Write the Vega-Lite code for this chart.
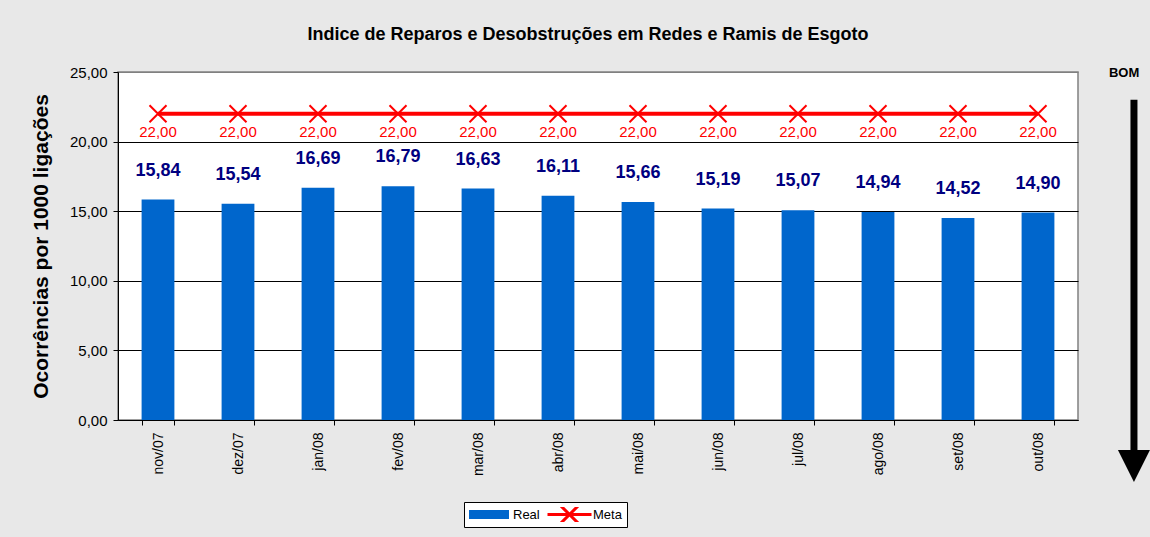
{
  "$schema": "https://vega.github.io/schema/vega-lite/v6.json",
  "width": 960,
  "height": 348,
  "autosize": {"type": "none"},
  "padding": {"left": 118, "top": 72, "right": 72, "bottom": 117},
  "background": "#e8e8e8",
  "config": {
    "font": "Liberation Sans",
    "locale": {"number": {"decimal": ",", "thousands": ".", "grouping": [3], "currency": ["R$", ""]}},
    "view": {"fill": "white", "stroke": "#808080", "strokeWidth": 1.5}
  },
  "title": {
    "text": "Indice de Reparos e Desobstruções em Redes e Ramis de Esgoto",
    "fontSize": 18,
    "fontWeight": "bold",
    "color": "black",
    "anchor": "middle",
    "frame": "group",
    "baseline": "alphabetic",
    "offset": 7,
    "dx": -10
  },
  "data": {
    "values": [
      {"mes": "nov/07", "real": 15.84, "meta": 22},
      {"mes": "dez/07", "real": 15.54, "meta": 22},
      {"mes": "jan/08", "real": 16.69, "meta": 22},
      {"mes": "fev/08", "real": 16.79, "meta": 22},
      {"mes": "mar/08", "real": 16.63, "meta": 22},
      {"mes": "abr/08", "real": 16.11, "meta": 22},
      {"mes": "mai/08", "real": 15.66, "meta": 22},
      {"mes": "jun/08", "real": 15.19, "meta": 22},
      {"mes": "jul/08", "real": 15.07, "meta": 22},
      {"mes": "ago/08", "real": 14.94, "meta": 22},
      {"mes": "set/08", "real": 14.52, "meta": 22},
      {"mes": "out/08", "real": 14.90, "meta": 22}
    ]
  },
  "layer": [
    {
      "layer": [
        {
          "mark": {"type": "bar"},
          "encoding": {
            "x": {
              "field": "mes", "type": "nominal", "sort": null,
              "scale": {"paddingInner": 0.59, "paddingOuter": 0.295},
              "axis": {
                "title": null, "labelAngle": -90, "labelFontSize": 14, "labelColor": "black",
                "labelPadding": 7, "tickBand": "extent", "tickSize": 5, "tickColor": "black",
                "domainColor": "black", "grid": false
              }
            },
            "y": {
              "field": "real", "type": "quantitative",
              "scale": {"domain": [0, 25], "nice": false},
              "axis": {
                "title": "Ocorrências por 1000 ligações", "titleFontSize": 21, "titleFontWeight": "bold",
                "titleColor": "black", "titlePadding": 18,
                "values": [0, 5, 10, 15, 20, 25], "format": ".2f",
                "labelFontSize": 15, "labelColor": "black", "labelPadding": 6,
                "tickSize": 5, "tickColor": "black", "domainColor": "black",
                "grid": true, "gridOpacity": 1,
                "gridColor": {"condition": {"test": "datum.value === 25", "value": "#808080"}, "value": "black"}
              }
            },
            "fill": {
              "datum": "Real",
              "scale": {"domain": ["Real"], "range": ["#0066CC"]},
              "legend": {
                "orient": "none", "legendX": 351, "legendY": 435, "title": null,
                "symbolType": "M-1,-0.225H1V0.225H-1Z", "symbolSize": 1600, "symbolStrokeWidth": 0,
                "clipHeight": 15, "labelFontSize": 13, "labelColor": "black", "labelOffset": 4,
                "padding": 0, "zindex": 2
              }
            }
          }
        },
        {
          "mark": {"type": "line", "strokeWidth": 4},
          "encoding": {
            "x": {"field": "mes", "type": "nominal", "sort": null},
            "y": {"field": "meta", "type": "quantitative"},
            "stroke": {
              "datum": "Meta",
              "scale": {"domain": ["Meta"], "range": ["#FF0000"]},
              "legend": {
                "orient": "none", "legendX": 346, "legendY": 430, "title": null,
                "symbolType": "M-1,0H1M-0.4,-0.4L0.4,0.4M-0.4,0.4L0.4,-0.4", "symbolSize": 1936,
                "symbolStrokeWidth": 3, "symbolFillColor": "transparent", "symbolOffset": 77,
                "clipHeight": 15, "labelFontSize": 13, "labelColor": "black", "labelOffset": 0,
                "padding": 5, "fillColor": "white", "strokeColor": "black", "zindex": 1
              }
            }
          }
        },
        {
          "mark": {"type": "point", "shape": "M-1,-1L1,1M-1,1L1,-1", "filled": false, "stroke": "#FF0000", "strokeWidth": 2, "size": 289, "opacity": 1},
          "encoding": {
            "x": {"field": "mes", "type": "nominal", "sort": null},
            "y": {"field": "meta", "type": "quantitative"}
          }
        },
        {
          "mark": {"type": "text", "dy": -29, "fontSize": 18, "fontWeight": "bold", "color": "#000080", "baseline": "middle"},
          "encoding": {
            "x": {"field": "mes", "type": "nominal", "sort": null},
            "y": {"field": "real", "type": "quantitative"},
            "text": {"field": "real", "type": "quantitative", "format": ".2f"}
          }
        },
        {
          "mark": {"type": "text", "dy": 18, "fontSize": 15, "color": "#FF0000", "baseline": "middle"},
          "encoding": {
            "x": {"field": "mes", "type": "nominal", "sort": null},
            "y": {"field": "meta", "type": "quantitative"},
            "text": {"field": "meta", "type": "quantitative", "format": ".2f"}
          }
        }
      ]
    },
    {
      "data": {"values": [{}]},
      "layer": [
        {
          "mark": {"type": "rule", "color": "black", "strokeWidth": 7},
          "encoding": {
            "x": {"datum": 1.0583, "type": "quantitative", "scale": {"domain": [0, 1], "nice": false, "zero": false}, "axis": null},
            "y": {"datum": 23, "type": "quantitative"},
            "y2": {"datum": -2.2}
          }
        },
        {
          "mark": {"type": "point", "shape": "M-1,-1L1,-1L0,1Z", "filled": true, "color": "black", "size": 1024, "opacity": 1},
          "encoding": {
            "x": {"datum": 1.0583, "type": "quantitative"},
            "y": {"datum": -3.3, "type": "quantitative"}
          }
        },
        {
          "mark": {"type": "text", "text": "BOM", "fontSize": 13, "fontWeight": "bold", "color": "black", "baseline": "middle"},
          "encoding": {
            "x": {"datum": 1.048, "type": "quantitative"},
            "y": {"datum": 24.93, "type": "quantitative"}
          }
        }
      ]
    }
  ],
  "resolve": {"scale": {"x": "independent"}, "axis": {"x": "independent"}}
}
